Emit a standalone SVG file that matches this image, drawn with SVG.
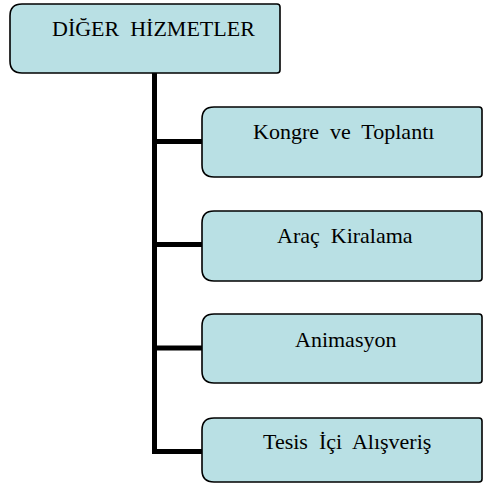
<svg xmlns="http://www.w3.org/2000/svg" width="483" height="484" viewBox="0 0 483 484">
<style>
.box{fill:#b9e0e4;stroke:#000;stroke-width:1.6}
.t{font-family:'Liberation Serif','Times New Roman','DejaVu Serif',Times,serif;font-size:22px;fill:#000;white-space:pre}
.c{stroke:#000;stroke-width:5;fill:none}
</style>
<rect width="483" height="484" fill="#fff"/>
<g id="connectors">
<path class="c" d="M154.5 73 V451.5 H202"/>
<path class="c" d="M154.5 141.5 H202"/>
<path class="c" d="M154.5 244.5 H202"/>
<path class="c" d="M154.5 348 H202"/>
</g>
<g id="root">
<path class="box" d="M22 4 H277 Q280 4 280 7 V70 Q280 73 277 73 H22 Q10 73 10 61 V16 Q10 4 22 4 Z"/>
<text class="t" font-family="Liberation Serif, DejaVu Serif, serif" x="52" y="36">DİĞER  HİZMETLER</text>
</g>
<g id="n1">
<path class="box" d="M214 107 H479 Q482 107 482 110 V174 Q482 177 479 177 H214 Q202 177 202 165 V119 Q202 107 214 107 Z"/>
<text class="t" font-family="Liberation Serif, DejaVu Serif, serif" x="253" y="139">Kongre  ve  Toplantı</text>
</g>
<g id="n2">
<path class="box" d="M214 211 H479 Q482 211 482 214 V278 Q482 281 479 281 H214 Q202 281 202 269 V223 Q202 211 214 211 Z"/>
<text class="t" font-family="Liberation Serif, DejaVu Serif, serif" x="277" y="243">Araç  Kiralama</text>
</g>
<g id="n3">
<path class="box" d="M214 314 H479 Q482 314 482 317 V380 Q482 383 479 383 H214 Q202 383 202 371 V326 Q202 314 214 314 Z"/>
<text class="t" font-family="Liberation Serif, DejaVu Serif, serif" x="295" y="347">Animasyon</text>
</g>
<g id="n4">
<path class="box" d="M214 418 H479 Q482 418 482 421 V479 Q482 482 479 482 H214 Q202 482 202 470 V430 Q202 418 214 418 Z"/>
<text class="t" font-family="Liberation Serif, DejaVu Serif, serif" x="263" y="449">Tesis  İçi  Alışveriş</text>
</g>
</svg>
